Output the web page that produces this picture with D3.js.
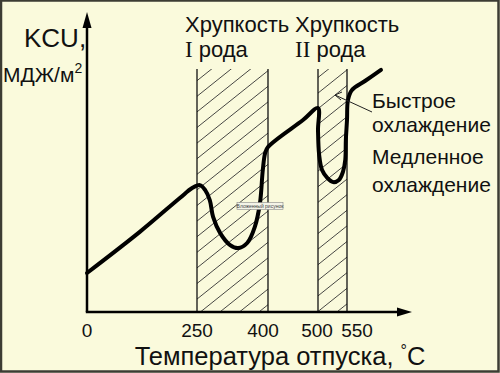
<!DOCTYPE html>
<html><head><meta charset="utf-8">
<script src="https://cdn.jsdelivr.net/npm/d3@7/dist/d3.min.js"></script>
<style>
html,body{margin:0;padding:0;background:#fafadc;}
svg{display:block;}
text{font-family:"Liberation Sans",Arial,sans-serif;fill:#111;}
</style></head>
<body>
<script>
// ---- data ----
const tickTemps = [0, 250, 400, 500, 550];
const tickLabels = ["0", "250", "400", "500", "550"];
const brittleZones = [[250, 400], [500, 550]];
const zoneTitles = [["Хрупкость", "I", " рода"], ["Хрупкость", "II", " рода"]];
// main curve (common part), temperature °C and KCU (arbitrary units)
const curveTemps = [0, 120, 211, 239, 256, 267, 277, 284, 299, 320, 337, 356, 372, 383, 389, 394, 400, 470, 500];
const curveKCU   = [13, 26.7, 38, 41.3, 42.3, 40.7, 37.3, 31.7, 26.3, 22.3, 21.3, 23, 28.3, 36.3, 47.3, 53, 55, 64, 68];
// slow cooling dip past 500 °C and continuation
const slowTemps = [500, 502, 507, 516, 526, 536, 543, 547, 548, 550, 551.7, 558.6, 581, 608.6];
const slowKCU   = [60.7, 52.3, 47.3, 44.7, 43.3, 44, 46.7, 50.7, 57.3, 64, 70.7, 74, 77, 80.7];
const zoneTopKCU = 81;

const W = 500, H = 373;
const svg = d3.select("body").append("svg").attr("width", W).attr("height", H);
svg.append("rect").attr("x", 1).attr("y", 0.5).attr("width", W - 2.5).attr("height", H - 2)
  .attr("fill", "#fafadc").attr("stroke", "#3c3c34").attr("stroke-width", 2.5);

const x = d3.scaleLinear().domain(tickTemps).range([87, 197, 268, 318, 347]);
const y = d3.scaleLinear().domain([0, 100]).range([312, 12]);

// hatched zones
const defs = svg.append("defs");
brittleZones.forEach((z, i) => {
  const x0 = x(z[0]), x1 = x(z[1]), y0 = y(zoneTopKCU), y1 = y(0);
  defs.append("clipPath").attr("id", "clip" + i).append("rect")
    .attr("x", x0).attr("y", y0).attr("width", x1 - x0).attr("height", y1 - y0);
  const g = svg.append("g").attr("clip-path", `url(#clip${i})`);
  const slope = 0.8, step = 15.6;
  for (let c = 4.3; c < 700; c += step) {
    g.append("line").attr("x1", x0 - 5).attr("y1", c - slope * (x0 - 5))
      .attr("x2", x1 + 5).attr("y2", c - slope * (x1 + 5))
      .attr("stroke", "#333").attr("stroke-width", 0.9);
  }
  [x0, x1].forEach(xx => svg.append("line").attr("x1", xx).attr("x2", xx).attr("y1", y0).attr("y2", y1)
    .attr("stroke", "#111").attr("stroke-width", 1.3));
});

// axes with arrows
svg.append("line").attr("x1", x(0)).attr("x2", x(0)).attr("y1", y(0)).attr("y2", 24)
  .attr("stroke", "#000").attr("stroke-width", 2.5);
svg.append("path").attr("d", `M${x(0)},12 L${x(0)-4.5},28 L${x(0)+4.5},28 Z`).attr("fill", "#000");
svg.append("line").attr("x1", x(0) - 1.2).attr("x2", 402).attr("y1", y(0)).attr("y2", y(0))
  .attr("stroke", "#000").attr("stroke-width", 2.5);
svg.append("path").attr("d", `M412,${y(0)} L397,${y(0)-4.5} L397,${y(0)+4.5} Z`).attr("fill", "#000");

// curve
const pts = curveTemps.map((t, i) => [t, curveKCU[i]]).concat(slowTemps.map((t, i) => [t, slowKCU[i]]));
const line = d3.line().x(d => x(d[0])).y(d => y(d[1])).curve(d3.curveCatmullRom.alpha(0.5));
svg.append("path").attr("d", line(pts)).attr("fill", "none").attr("stroke", "#000")
  .attr("stroke-width", 4).attr("stroke-linejoin", "round").attr("stroke-linecap", "round");

// pointer for fast cooling
svg.append("line").attr("x1", 372).attr("y1", 112).attr("x2", 335).attr("y2", 95)
  .attr("stroke", "#222").attr("stroke-width", 1);
svg.append("path").attr("d", "M342,92 L335,95 L341,100").attr("fill", "none").attr("stroke", "#222").attr("stroke-width", 1);

// tick labels
const tickDx = [0, 0, -5, -1, 10];
svg.selectAll("text.tick").data(tickTemps).enter().append("text").attr("class", "tick")
  .attr("x", (d, i) => x(d) + tickDx[i]).attr("y", 337).attr("text-anchor", "middle")
  .attr("font-size", 19).text((d, i) => tickLabels[i]);

// axis titles
const xt = svg.append("text").attr("x", 280).attr("y", 365).attr("text-anchor", "middle").attr("font-size", 25.5);
xt.append("tspan").text("Температура отпуска, ");
xt.append("tspan").attr("font-size", 16).attr("dy", -9).text("°");
xt.append("tspan").attr("dy", 9).text("C");

svg.append("text").attr("x", 24).attr("y", 47).attr("font-size", 26).text("KCU,");
const yu = svg.append("text").attr("x", 3).attr("y", 82).attr("font-size", 21);
yu.append("tspan").text("МДЖ/м");
yu.append("tspan").attr("font-size", 14).attr("dy", -9).text("2");

// zone titles
const zoneTitleX = [185, 295];
zoneTitles.forEach((t, i) => {
  svg.append("text").attr("x", zoneTitleX[i]).attr("y", 32).attr("font-size", 22).text(t[0]);
  const s = svg.append("text").attr("x", zoneTitleX[i]).attr("y", 57).attr("font-size", 22);
  s.append("tspan").attr("font-family", "'Liberation Serif','Times New Roman',serif").attr("font-size", 23).text(t[1]);
  s.append("tspan").text(t[2]);
});

// cooling labels
[["Быстрое", 108], ["охлаждение", 132], ["Медленное", 164], ["охлаждение", 192]].forEach(d => {
  svg.append("text").attr("x", 372).attr("y", d[1]).attr("font-size", 21).text(d[0]);
});

// embedded-picture tag
svg.append("rect").attr("x", 237).attr("y", 202.5).attr("width", 46).attr("height", 7)
  .attr("fill", "#f4f4e8").attr("stroke", "#888").attr("stroke-width", 0.6);
svg.append("text").attr("x", 260).attr("y", 208).attr("text-anchor", "middle").attr("font-size", 5)
  .style("fill", "#444").text("Вложенный рисунок");
</script>
</body></html>
